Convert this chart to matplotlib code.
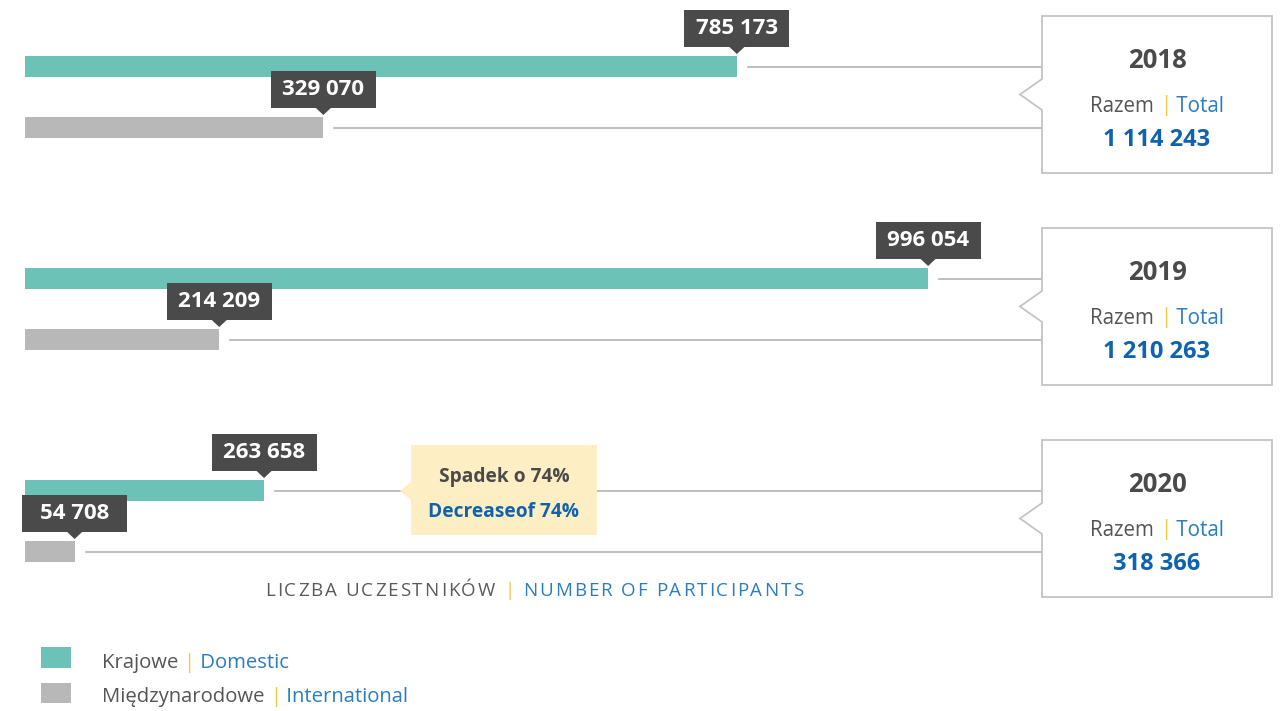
import matplotlib
matplotlib.use('Agg')
import matplotlib.pyplot as plt
from matplotlib.patches import Rectangle, Polygon
from matplotlib.font_manager import FontProperties, findfont, get_font

plt.rcParams['font.family'] = ['Open Sans', 'DejaVu Sans']

# data
years = ['2018', '2019', '2020']
domestic = [785173, 996054, 263658]
international = [329070, 214209, 54708]
totals = [1114243, 1210263, 318366]
decrease_pl = 'Spadek o 74%'
decrease_en = 'Decreaseof 74%'

TEAL = '#6cc2b6'
GREY = '#b8b8b8'
DARK = '#4a4a4a'
BLUE = '#0f63ae'
LBLUE = '#2b7cc0'
YEL = '#f3c843'
LINE = '#b4b4b4'

W, H = 1288, 711
fig = plt.figure(figsize=(W / 100, H / 100), dpi=100)

# bar axes: x in participants, y in pixel rows
ax = fig.add_axes([0, 0, 1, 1])
ax.set_xlim(-27600, 1393000)
ax.set_ylim(H, 0)
ax.axis('off')

# overlay axes in pixels for callouts / boxes / legend
pa = fig.add_axes([0, 0, 1, 1])
pa.set_xlim(0, W)
pa.set_ylim(H, 0)
pa.axis('off')
pa.patch.set_alpha(0)


def fmt(v):
    return f'{v:,}'.replace(',', ' ')


def advances(s, size, weight):
    f = get_font(findfont(FontProperties(family='Open Sans', weight=weight)))
    f.set_size(size, 100)
    return [f.load_char(ord(c)).linearHoriAdvance / 65536 for c in s]


def parts_text(x, y, parts, size, weight='normal', ha='left', track=0.0, width=None):
    # parts: list of (text, color); drawn one after another
    if track or width:
        parts = [(c, col) for s, col in parts for c in s]
    full = ''.join(s for s, _ in parts)
    adv = advances(full, size, weight)
    nat = sum(adv)
    if width is not None:
        track = (width - nat) / (len(full) - 1)
    total = nat + track * (len(full) - 1)
    x0 = x - total / 2 if ha == 'center' else x
    i = 0
    for s, col in parts:
        xi = x0 + sum(adv[:i]) + track * i
        pa.text(xi, y, s, color=col, fontsize=size, fontweight=weight,
                ha='left', va='center', zorder=6)
        i += len(s)


def to_px(v, y):
    d = ax.transData.transform((v, y))
    return pa.transData.inverted().transform(d)


bar_h = 21
dom_y = [66.5, 278.5, 490.5]
int_y = [y + 61 for y in dom_y]
box_top = [16, 228, 440]
box_l, box_r, box_h = 1042, 1272, 157

ax.barh(dom_y, domestic, height=bar_h, color=TEAL, zorder=2)
ax.barh(int_y, international, height=bar_h, color=GREY, zorder=2)

for i, yr in enumerate(years):
    for v, yc in ((domestic[i], dom_y[i]), (international[i], int_y[i])):
        ex, _ = to_px(v, yc)
        # leader line to the year box
        pa.plot([ex + 11, box_l], [yc, yc], color=LINE, lw=1.2, zorder=1)
        # value callout
        top = yc - bar_h / 2
        pa.add_patch(Rectangle((ex - 52.5, top - 46), 105, 37, fc=DARK, ec='none', zorder=4))
        pa.add_patch(Polygon([(ex - 8, top - 9.5), (ex + 8, top - 9.5), (ex, top - 2)],
                             closed=True, fc=DARK, ec='none', zorder=4))
        pa.text(ex, top - 27.5, fmt(v), color='white', fontsize=16, fontweight='bold',
                ha='center', va='center', zorder=5)

    # year box with notch
    t = box_top[i]
    mid = t + box_h / 2
    pa.add_patch(Polygon([(box_l, t), (box_r, t), (box_r, t + box_h), (box_l, t + box_h),
                          (box_l, mid + 15.5), (box_l - 22, mid), (box_l, mid - 15.5)],
                         closed=True, fc='white', ec='#c4c4c4', lw=1.3, zorder=3))
    cx = (box_l + box_r) / 2
    pa.text(cx, t + 44, yr, color=DARK, fontsize=18.5, fontweight='bold',
            ha='center', va='center', zorder=6)
    parts_text(cx, t + 90, [('Razem ', '#555555'), ('|', YEL), (' Total', LBLUE)], 14.8, ha='center')
    pa.text(cx, t + 124, fmt(totals[i]), color=BLUE, fontsize=17, fontweight='bold',
            ha='center', va='center', zorder=6)

# yellow decrease callout
pa.add_patch(Polygon([(411, 445), (597, 445), (597, 535), (411, 535), (411, 500),
                      (400, 491), (411, 482)], closed=True, fc='#fdeec4', ec='none', zorder=4))
pa.text(504, 477, decrease_pl, color=DARK, fontsize=13.8, fontweight='bold',
        ha='center', va='center', zorder=6)
pa.text(504, 512, decrease_en, color=BLUE, fontsize=13.8, fontweight='bold',
        ha='center', va='center', zorder=6)

# axis title
parts_text(265, 591, [('LICZBA UCZESTNIKÓW ', '#5a5a5a'), ('|', YEL),
                      (' NUMBER OF PARTICIPANTS', LBLUE)], 13.5, width=538)

# legend
pa.add_patch(Rectangle((41, 647), 30, 21, fc=TEAL, ec='none'))
pa.add_patch(Rectangle((41, 683), 30, 20, fc=GREY, ec='none'))
parts_text(102, 663, [('Krajowe ', '#555555'), ('|', YEL), (' Domestic', LBLUE)], 14.6)
parts_text(102, 697, [('Międzynarodowe ', '#555555'), ('|', YEL), (' International', LBLUE)], 14.6)

fig.savefig('out.png', dpi=100)
